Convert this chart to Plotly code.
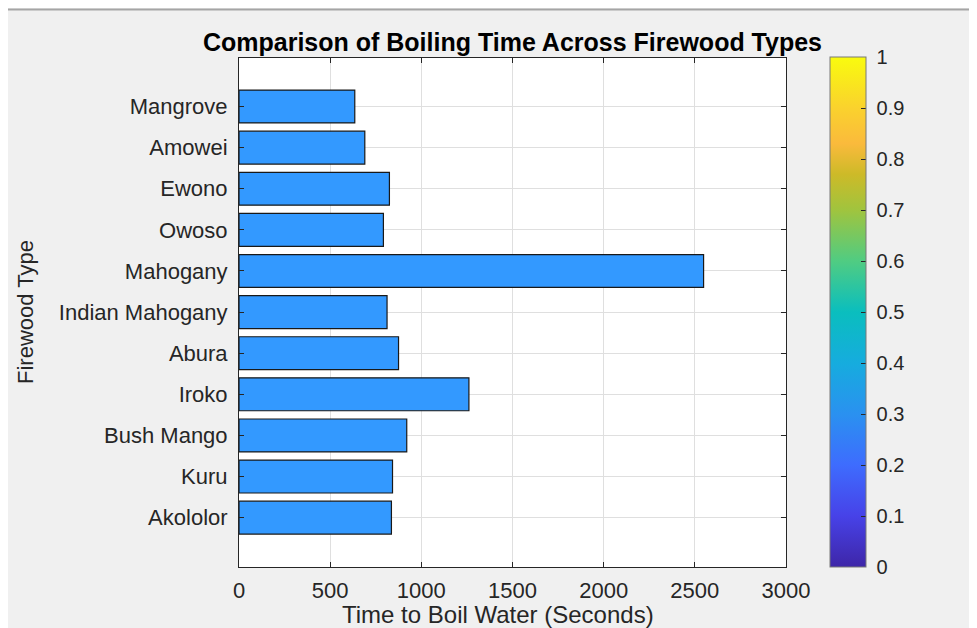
import plotly.graph_objects as go

categories = ["Akololor", "Kuru", "Bush Mango", "Iroko", "Abura", "Indian Mahogany",
              "Mahogany", "Owoso", "Ewono", "Amowei", "Mangrove"]
boil_time = [836, 842, 920, 1261, 875, 812, 2548, 792, 825, 690, 635]
x_ticks = [0, 500, 1000, 1500, 2000, 2500, 3000]
cbar_ticks = [0, 0.1, 0.2, 0.3, 0.4, 0.5, 0.6, 0.7, 0.8, 0.9, 1]

parula = [
    [0.00, "rgb(62,38,168)"],
    [0.10, "rgb(71,66,232)"],
    [0.20, "rgb(62,108,254)"],
    [0.30, "rgb(42,145,240)"],
    [0.40, "rgb(22,172,222)"],
    [0.50, "rgb(10,190,190)"],
    [0.60, "rgb(80,204,130)"],
    [0.70, "rgb(160,196,62)"],
    [0.77, "rgb(205,186,40)"],
    [0.83, "rgb(250,186,60)"],
    [0.90, "rgb(250,210,45)"],
    [1.00, "rgb(249,251,14)"],
]

# page body has an 8px margin: figure origin sits at screen (8, 8)
OFF = 8
W, H = 977 - OFF, 628 - OFF
L, R, T, B = 239 - OFF, 786 - OFF, 58 - OFF, 567 - OFF
PW, PH = R - L, B - T

def px(x):
    return (x - OFF - L) / PW

def py(y):
    return (B - (y - OFF)) / PH

FONT = "Liberation Sans, Arial, sans-serif"
GREY = "rgb(38,38,38)"

fig = go.Figure()
fig.add_trace(go.Bar(
    x=boil_time, y=categories, orientation="h", width=0.8,
    marker=dict(color="rgb(51,153,255)", line=dict(color="rgb(25,25,25)", width=1.2)),
    showlegend=False,
))
fig.add_trace(go.Scatter(
    x=[None, None], y=[None, None], xaxis="x2", yaxis="y2", mode="markers",
    marker=dict(color=[0, 1], cmin=0, cmax=1, colorscale=parula, showscale=True,
                colorbar=dict(
                    xref="paper", x=px(830), xanchor="left",
                    yref="paper", y=(py(57) + py(567)) / 2, yanchor="middle",
                    thickness=36, lenmode="fraction", len=py(57) - py(567),
                    xpad=0, ypad=0,
                    outlinewidth=1, outlinecolor="rgb(120,120,120)",
                    tickvals=cbar_ticks, ticktext=[f"\u00a0{v:g}" for v in cbar_ticks],
                    ticks="inside", ticklen=5, tickcolor="rgb(40,40,40)",
                    tickfont=dict(family=FONT, size=20, color=GREY),
                )),
    showlegend=False, hoverinfo="skip",
))

axis_font = dict(family=FONT, size=22, color=GREY)

fig.update_layout(
    width=W, height=H,
    margin=dict(l=L, r=W - R, t=T, b=H - B, pad=0),
    paper_bgcolor="rgb(240,240,240)",
    plot_bgcolor="white",
    title=dict(text="<b>Comparison of Boiling Time Across Firewood Types</b>",
               x=(L + R) / 2 / W, xanchor="center", xref="container",
               y=1 - (42 - OFF) / H, yanchor="middle",
               font=dict(family=FONT, size=25, color="black")),
    xaxis=dict(range=[0, 3000], tickvals=x_ticks, ticks="inside", ticklen=5,
               tickcolor=GREY, showline=True, linecolor=GREY,
               linewidth=1, mirror="ticks", showgrid=True, gridcolor="rgb(223,223,223)",
               zeroline=False, tickfont=axis_font, ticklabelstandoff=4),
    yaxis=dict(type="category", categoryorder="array", categoryarray=categories,
               range=[-1.2, 10 + 1.18], ticks="inside", ticklen=5,
               tickcolor=GREY, showline=True, linecolor=GREY,
               linewidth=1, mirror="ticks", showgrid=True, gridcolor="rgb(223,223,223)",
               tickfont=axis_font, ticklabelstandoff=6),
    xaxis2=dict(visible=False, overlaying="x", range=[0, 1]),
    yaxis2=dict(visible=False, overlaying="y", range=[0, 1]),
    bargap=0.2,
)

# thin grey rule along the top edge of the window frame
fig.add_shape(type="line", xref="paper", yref="paper",
              x0=px(OFF), x1=px(977), y0=py(9.5), y1=py(9.5),
              line=dict(color="rgb(165,165,165)", width=2), layer="above")

fig.add_annotation(text="Time to Boil Water (Seconds)", xref="paper", yref="paper",
                   x=px(498), y=py(614), showarrow=False, xanchor="center", yanchor="middle",
                   font=dict(family=FONT, size=24, color=GREY))
fig.add_annotation(text="Firewood Type", xref="paper", yref="paper",
                   x=px(25), y=py(312), showarrow=False, textangle=-90,
                   xanchor="center", yanchor="middle",
                   font=dict(family=FONT, size=22, color=GREY))

fig.write_html("out.html")
